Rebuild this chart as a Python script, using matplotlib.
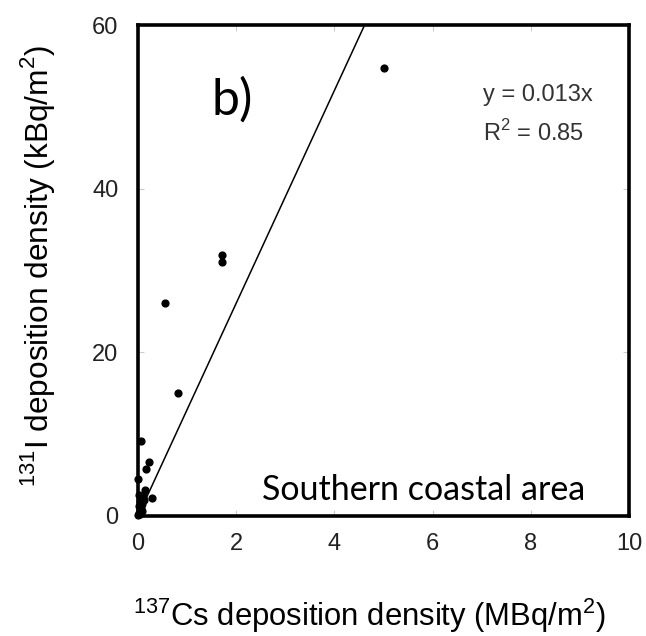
import numpy as np
import matplotlib.pyplot as plt

# 137Cs (MBq/m2) vs 131I (kBq/m2), southern coastal area
cs137 = [5.02, 1.72, 1.72, 0.55, 0.82, 0.07, 0.23, 0.17, 0.0, 0.14, 0.28, 0.10,
         0.05, 0.02, 0.08, 0.04, 0.12, 0.03, 0.06, 0.01, 0.09, 0.02, 0.05]
i131 = [54.8, 31.9, 31.0, 26.0, 15.0, 9.2, 6.6, 5.8, 4.5, 3.2, 2.2, 2.5,
        1.8, 1.2, 1.5, 0.8, 2.0, 0.4, 1.0, 0.1, 0.6, 2.6, 0.2]
slope = 13.0  # kBq per MBq  (y = 0.013x)

plt.rcParams['font.family'] = ['Liberation Sans', 'DejaVu Sans']
plt.rcParams['mathtext.fontset'] = 'custom'
plt.rcParams['mathtext.rm'] = 'Liberation Sans'
fig = plt.figure(figsize=(6.46, 6.36), dpi=100)
ax = fig.add_axes([138/646, 1-516/636, 491/646, 491/636])

ax.scatter(cs137, i131, s=24, color='black', zorder=3, clip_on=False)
xl = np.array([0, 10])
ax.plot(xl, slope*xl, color='black', lw=1.1)

ax.set_xlim(0, 10)
ax.set_ylim(0, 60)
ax.set_xticks([0, 2, 4, 6, 8, 10])
ax.set_yticks([0, 20, 40, 60])
ax.tick_params(direction='in', length=4, color='#cccccc', labelsize=17,
               top=True, right=True, labelcolor='#222222')
ax.tick_params(axis='y', pad=14)
ax.tick_params(axis='x', pad=12)
for sp in ax.spines.values():
    sp.set_linewidth(2.6)

ax.set_xlabel(r'$^{137}$Cs deposition density (MBq/m$^{2}$)', fontsize=22.3)
ax.set_ylabel(r'$^{131}$I deposition density (kBq/m$^{2}$)', fontsize=22.8)
ax.xaxis.set_label_coords(0.472, -0.165)
ax.yaxis.set_label_coords(-0.165, 0.51)

ax.text(0.703, 0.858, 'y = 0.013x', transform=ax.transAxes, fontsize=17,
        color='#333333', va='center')
ax.text(0.703, 0.78, r'R$^{2}$ = 0.85', transform=ax.transAxes, fontsize=17,
        color='#333333', va='center')
ax.text(0.15, 0.818, 'b)', transform=ax.transAxes, fontsize=36,
        family=['Lato', 'DejaVu Sans'], va='baseline')
ax.text(0.253, 0.033, 'Southern coastal area', transform=ax.transAxes, fontsize=24.5,
        family=['Lato', 'DejaVu Sans'], va='baseline')

fig.savefig('out.png', dpi=100)
